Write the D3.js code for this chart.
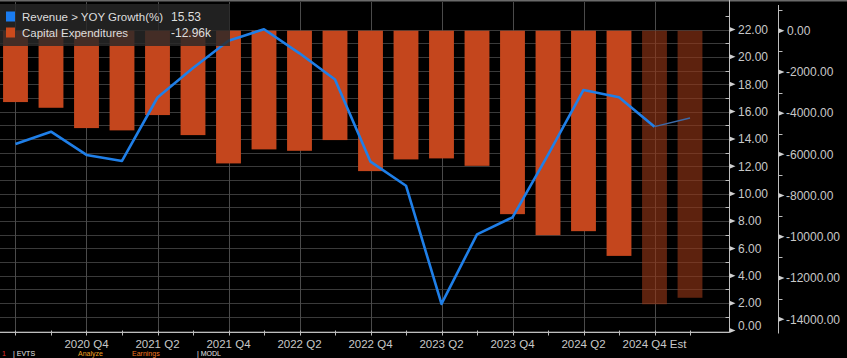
<!DOCTYPE html>
<html>
<head>
<meta charset="utf-8">
<script src="https://cdn.jsdelivr.net/npm/d3@7/dist/d3.min.js"></script>
<style>
html,body{margin:0;padding:0;background:#000;overflow:hidden;}
svg{display:block;font-family:"Liberation Sans",Arial,sans-serif;}
</style>
</head>
<body>
<svg id="chart" width="847" height="358"></svg>
<script>
const categories = ["2020 Q2","2020 Q3","2020 Q4","2021 Q1","2021 Q2","2021 Q3","2021 Q4","2022 Q1","2022 Q2","2022 Q3","2022 Q4","2023 Q1","2023 Q2","2023 Q3","2023 Q4","2024 Q1","2024 Q2","2024 Q3","2024 Q4 Est","2025 Q1 Est"];
const isEstimate = [false,false,false,false,false,false,false,false,false,false,false,false,false,false,false,false,false,false,true,true];
const revenueGrowth = [13.63,14.53,12.83,12.39,17.03,19.19,21.18,22.02,20.26,18.35,12.34,10.58,1.94,7.03,8.27,12.83,17.58,17.05,14.90,15.53];
const capex = [-3463,-3740,-4726,-4837,-4094,-5066,-6440,-5760,-5828,-5308,-6814,-6246,-6197,-6557,-8902,-9922,-9728,-10928,-13273,-12960];
const xTickLabels = ["2020 Q4","2021 Q2","2021 Q4","2022 Q2","2022 Q4","2023 Q2","2023 Q4","2024 Q2","2024 Q4 Est"];
const leftTicks = [0,2,4,6,8,10,12,14,16,18,20,22];
const rightTicks = [0,-2000,-4000,-6000,-8000,-10000,-12000,-14000];
const legendItems = [
  {name:"Revenue > YOY Growth(%)", value:"15.53", color:"#1a7cf0"},
  {name:"Capital Expenditures", value:"-12.96k", color:"#cc4a1c"}
];
const footerItems = [
  {t:"1", c:"#e0302a", x:2},{t:"| EVTS", c:"#e8e8e8", x:13},{t:"Analyze", c:"#f0a020", x:78},{t:"Earnings", c:"#f07a20", x:132},{t:"| MODL", c:"#e8e8e8", x:197}
];

const svg = d3.select("#chart");
const plotRight = 729.5, axisY = 332.5, rightAxisX = 778.5;

const x = d3.scaleBand().domain(categories).range([-2.25, 707.75]).paddingInner(0.3).paddingOuter(0.15);
const yL = d3.scaleLinear().domain([0, 22]).range([330.5, 29.5]);
const yR = d3.scaleLinear().domain([-14000, 0]).range([319.2, 30.7]);
const cx = c => x(c) + x.bandwidth()/2;

// top strip
svg.append("rect").attr("x",0).attr("y",0).attr("width",847).attr("height",1.5).attr("fill","#6a6a6a");

// horizontal gridlines (every 1 unit of growth)
const g = svg.append("g");
g.selectAll("line.h").data(d3.range(0, 23)).join("line")
  .attr("x1", 0).attr("x2", plotRight)
  .attr("y1", d => Math.round(yL(d)) + 0.5).attr("y2", d => Math.round(yL(d)) + 0.5)
  .attr("stroke", "#3a3a3a").attr("stroke-width", 1);

// vertical gridlines every 2 quarters
const vIdx = categories.filter((c,i) => i % 2 === 0);
g.selectAll("line.v").data(vIdx).join("line")
  .attr("x1", d => Math.round(cx(d)) + 0.5).attr("x2", d => Math.round(cx(d)) + 0.5)
  .attr("y1", 2).attr("y2", axisY)
  .attr("stroke", "#4a4a4a").attr("stroke-width", 1);

// bars
const data = categories.map((c,i) => ({c, v: capex[i], est: isEstimate[i], g: revenueGrowth[i]}));
svg.append("g").selectAll("rect").data(data).join("rect")
  .attr("x", d => x(d.c)).attr("width", x.bandwidth())
  .attr("y", yR(0)).attr("height", d => yR(d.v) - yR(0))
  .attr("fill", d => d.est ? "rgba(150,55,22,0.62)" : "#c4461d");

// line
const line = d3.line().x(d => cx(d.c)).y(d => yL(d.g));
const actualPts = data.filter((d,i) => i <= 18);
svg.append("path").datum(actualPts).attr("d", line)
  .attr("fill","none").attr("stroke","#1f7fe8").attr("stroke-width",2.6).attr("stroke-linejoin","round");
svg.append("path").datum(data.slice(18)).attr("d", line)
  .attr("fill","none").attr("stroke","#3d6aa8").attr("stroke-width",1.4);

// x axis
const ax = svg.append("g");
ax.append("line").attr("x1",0).attr("x2",plotRight).attr("y1",axisY).attr("y2",axisY).attr("stroke","#bdbdbd").attr("stroke-width",1);
ax.selectAll("line.t").data(categories).join("line")
  .attr("x1", d => Math.round(cx(d))+0.5).attr("x2", d => Math.round(cx(d))+0.5)
  .attr("y1", axisY-2).attr("y2", axisY+3).attr("stroke","#bdbdbd");
ax.selectAll("text").data(xTickLabels).join("text")
  .attr("x", d => cx(categories.find(c => d.startsWith(c)))).attr("y", 347.5)
  .attr("text-anchor","middle").attr("fill","#c8c8c8").attr("font-size","11.5px").text(d => d);

// left axis
const la = svg.append("g");
la.append("line").attr("x1",plotRight).attr("x2",plotRight).attr("y1",0).attr("y2",axisY).attr("stroke","#bdbdbd");
la.selectAll("line.m").data(d3.range(1,24,2)).join("line")
  .attr("x1",plotRight-4).attr("x2",plotRight).attr("y1",d=>Math.round(yL(d))+0.5).attr("y2",d=>Math.round(yL(d))+0.5).attr("stroke","#bdbdbd");
la.selectAll("path").data(leftTicks).join("path")
  .attr("d", d => { const y = yL(d); return `M${plotRight},${y-2.5}L${plotRight+6},${y}L${plotRight},${y+2.5}Z`; })
  .attr("fill","#d0d0d0");
la.selectAll("text").data(leftTicks).join("text")
  .attr("x", 738).attr("y", d => Math.min(yL(d), 326) + 4.3)
  .attr("fill","#c8c8c8").attr("font-size","12px").text(d => d3.format(".2f")(d));

// right axis
const ra = svg.append("g");
ra.append("line").attr("x1",rightAxisX).attr("x2",rightAxisX).attr("y1",5).attr("y2",axisY+1).attr("stroke","#bdbdbd");
ra.selectAll("line.m").data(d3.range(-13000, 2000, 2000)).join("line")
  .attr("x1",rightAxisX).attr("x2",rightAxisX+4).attr("y1",d=>Math.round(yR(d))+0.5).attr("y2",d=>Math.round(yR(d))+0.5).attr("stroke","#bdbdbd");
ra.selectAll("path").data(rightTicks).join("path")
  .attr("d", d => { const y = yR(d); return `M${rightAxisX},${y-2.5}L${rightAxisX+6},${y}L${rightAxisX},${y+2.5}Z`; })
  .attr("fill","#d0d0d0");
ra.selectAll("text").data(rightTicks).join("text")
  .attr("x", d => d === 0 ? 787 : 786).attr("y", d => yR(d) + 4.3)
  .attr("fill","#c8c8c8").attr("font-size","12px").text(d => d3.format(".2f")(d).replace("−","-"));

// legend
const lg = svg.append("g");
lg.append("rect").attr("x",0).attr("y",4).attr("width",230).attr("height",42).attr("fill","rgba(40,40,40,0.82)");
legendItems.forEach((it, i) => {
  const yb = 21 + i*16;
  lg.append("rect").attr("x",6).attr("y",yb-9.5).attr("width",9).attr("height",10).attr("fill",it.color);
  lg.append("text").attr("x",22).attr("y",yb).attr("fill","#dedede").attr("font-size","11.5px")
    .attr("textLength", i === 0 ? 141 : null).attr("lengthAdjust","spacingAndGlyphs").text(it.name);
  lg.append("text").attr("x",171).attr("y",yb).attr("fill","#dedede").attr("font-size","12px").text(it.value);
});

// footer (partly hidden at the bottom edge in the reference)
svg.append("g").selectAll("text").data(footerItems).join("text")
  .attr("x", d => d.x).attr("y", 356.4).attr("font-size","7px").attr("fill", d => d.c).text(d => d.t);
</script>
</body>
</html>
